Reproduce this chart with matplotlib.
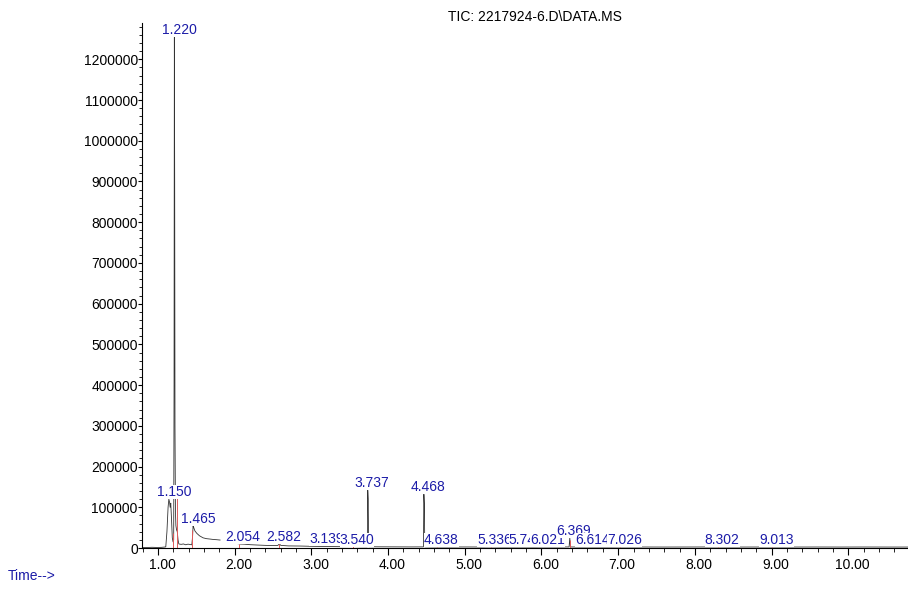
import matplotlib
matplotlib.use("Agg")
import matplotlib.pyplot as plt
import matplotlib.transforms as mtransforms
from matplotlib.ticker import MultipleLocator, FormatStrFormatter

plt.rcParams["font.family"] = ["Liberation Sans", "DejaVu Sans"]

# ---- TIC trace, part 1 (solvent / early peaks) ----
t_early = [0.79, 0.85, 0.92, 0.98, 1.04, 1.09, 1.10, 1.115, 1.13, 1.14, 1.15, 1.157,
           1.165, 1.175, 1.185, 1.195, 1.203, 1.208, 1.212, 1.216, 1.220, 1.226,
           1.232, 1.24, 1.25, 1.26, 1.27, 1.30, 1.33, 1.36, 1.39, 1.42, 1.44, 1.450,
           1.456, 1.465, 1.48, 1.505, 1.54, 1.587, 1.63, 1.678, 1.72, 1.76, 1.808]
i_early = [1500, 1200, 1800, 1400, 1600, 2500, 3000, 40000, 100000, 120000, 112000, 100000,
           110000, 70000, 25000, 15000, 20000, 400000, 1254000, 900000, 300000, 90000,
           55000, 45000, 40000, 20000, 10000, 9000, 10000, 8000, 9500, 8500, 8000, 30000,
           54000, 50000, 42000, 36000, 30000, 25000, 23000, 22000, 21000, 20500, 19600]

# ---- TIC trace, part 2 ----
t_late = [1.961, 2.00, 2.05, 2.069, 2.12, 2.20, 2.287, 2.40, 2.50, 2.56, 2.582, 2.60,
          2.70, 2.852, 3.00, 3.14, 3.243, 3.40, 3.54, 3.65, 3.728, 3.734, 3.740, 3.746,
          3.85, 4.00, 4.15, 4.30, 4.460, 4.466, 4.472, 4.478, 4.60, 4.80, 5.00, 5.20,
          5.34, 5.50, 5.74, 5.90, 6.02, 6.20, 6.36, 6.369, 6.378, 6.50, 6.61, 6.80,
          7.03, 7.30, 7.60, 7.90, 8.30, 8.60, 9.01, 9.30, 9.60, 9.90, 10.20, 10.50, 10.78]
i_late = [13000, 11500, 10500, 9800, 9500, 8200, 7400, 6500, 6000, 6200, 10000, 6500,
          5200, 4900, 4200, 3800, 3600, 3300, 3500, 3100, 3000, 142000, 120000, 3200,
          3000, 2900, 2800, 2700, 2800, 132000, 110000, 2900, 2600, 2500, 2600, 2500,
          2700, 2400, 2500, 2400, 2600, 2500, 2600, 25000, 2600, 2400, 2500, 2400,
          2600, 2500, 2400, 2500, 2600, 2400, 2500, 2400, 2500, 2400, 2500, 2400, 2400]

# ---- peak labels ----
peak_times = [1.150, 1.220, 1.465, 2.054, 2.582, 3.139, 3.540, 3.737, 4.468, 4.638,
              5.336, 5.744, 6.021, 6.369, 6.614, 7.026, 8.302, 9.013]
peak_heights = [120000, 1254000, 54000, 10500, 10000, 4000, 3500, 142000, 132000, 2600,
                2700, 2500, 2600, 25000, 2500, 2600, 2600, 2500]
peak_labels = ["1.150", "1.220", "1.465", "2.054", "2.582", "3.139", "3.540", "3.737",
               "4.468", "4.638", "5.336", "5.744", "6.021", "6.369", "6.614", "7.026",
               "8.302", "9.013"]

# ---- integration event markers (red) ----
event_times = [1.195, 1.24, 1.447, 2.05, 2.582, 3.54, 4.64, 5.34, 6.369, 7.03, 8.30, 9.01]
event_heights = [36000, 135000, 45000, 9000, 11000, 4000, 3500, 3500, 20000, 3500, 3500, 3500]

x_ticks = [1, 2, 3, 4, 5, 6, 7, 8, 9, 10]
y_ticks = [0, 100000, 200000, 300000, 400000, 500000, 600000, 700000, 800000,
           900000, 1000000, 1100000, 1200000]

label_blue = "#1c1ca8"

fig = plt.figure(figsize=(9.08, 5.94), dpi=100)
ax = fig.add_axes([0.1564, 0.0774, 0.8436, 0.8838])

ax.plot(t_early, i_early, color="#333333", lw=0.6, zorder=2)
ax.plot(t_late, i_late, color="#333333", lw=0.6, zorder=2)
ax.vlines(event_times, 0, event_heights, color="#e05a5a", lw=0.7, zorder=3)

# labels with white boxes, later ones cover earlier ones (like the instrument print)
for k, (t, h, lab) in enumerate(zip(peak_times, peak_heights, peak_labels)):
    ax.annotate(lab, (t, h), xytext=(3, 0), textcoords="offset points",
                ha="center", va="bottom", fontsize=10, color=label_blue,
                bbox=dict(facecolor="white", edgecolor="none", pad=0),
                zorder=5 + k)

ax.set_xlim(0.79, 10.78)
ax.set_ylim(0, 1289000)

ax.set_xticks(x_ticks)
ax.set_yticks(y_ticks)
ax.xaxis.set_major_formatter(FormatStrFormatter("%.2f"))
ax.yaxis.set_major_formatter(FormatStrFormatter("%d"))
ax.xaxis.set_minor_locator(MultipleLocator(0.2))
ax.yaxis.set_minor_locator(MultipleLocator(20000))

ax.tick_params(axis="x", which="major", length=5, width=0.8, pad=2.5, labelsize=10)
ax.tick_params(axis="x", which="minor", length=3, width=0.6)
ax.tick_params(axis="y", which="major", length=3, width=0.8, pad=0, labelsize=10)
ax.tick_params(axis="y", which="minor", length=2, width=0.6)

shift = mtransforms.ScaledTranslation(4 / 100, 0, fig.dpi_scale_trans)
for lab in ax.get_xticklabels():
    lab.set_transform(lab.get_transform() + shift)

for side in ["top", "right"]:
    ax.spines[side].set_visible(False)
ax.spines["left"].set_linewidth(0.8)
ax.spines["bottom"].set_linewidth(0.8)

fig.text(448 / 908, 1 - 17 / 594, "TIC: 2217924-6.D\\DATA.MS", ha="left", va="center",
         fontsize=10, color="black")
fig.text(8 / 908, 1 - 576 / 594, "Time-->", ha="left", va="center",
         fontsize=10, color=label_blue)

fig.savefig("out.png", dpi=100)
